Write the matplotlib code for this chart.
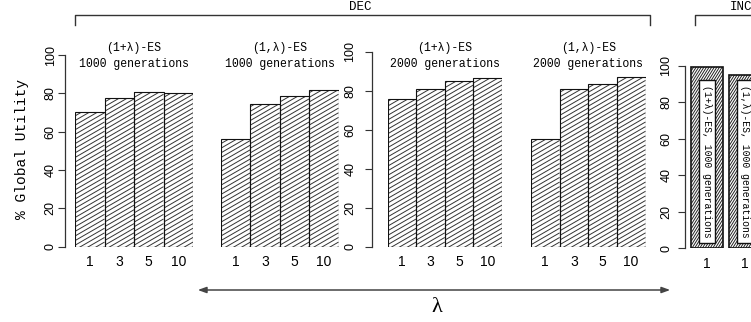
import matplotlib
matplotlib.use("Agg")
import matplotlib.pyplot as plt
import numpy as np
from matplotlib.collections import LineCollection
from matplotlib.patches import Rectangle, FancyArrowPatch
from matplotlib.lines import Line2D
from matplotlib.transforms import IdentityTransform

W, H = 751, 322

# data
lambdas = ["1", "3", "5", "10"]
plus_1000 = [70.1, 77.7, 80.7, 80.3]
comma_1000 = [56.0, 74.6, 78.6, 81.7]
plus_2000 = [75.7, 80.9, 85.0, 86.4]
comma_2000 = [55.4, 80.7, 83.3, 86.9]
titles = ["(1+λ)-ES\n1000 generations", "(1,λ)-ES\n1000 generations",
          "(1+λ)-ES\n2000 generations", "(1,λ)-ES\n2000 generations"]
inc_ticks = ["1", "1"]
inc_values = [99.6, 95.1]
inc_texts = ["(1+λ)-ES, 1000 generations", "(1,λ)-ES, 1000 generations"]

MONO = "Liberation Mono"
SANS = "Liberation Sans"
LINE = "#333333"

fig = plt.figure(figsize=(W / 100, H / 100), dpi=100)


def rect(l, r, b, t):
    return [l / W, 1 - b / H, (r - l) / W, (b - t) / H]


def fpx(x, y):
    return (x / W, 1 - y / H)


def hatch(ax, bars, angle, step, lw, color):
    # angled hatch lines in pixel space, clipped to each bar
    tan = np.tan(np.radians(angle))
    dy = step / np.cos(np.radians(angle))
    for b in bars:
        bb = b.get_window_extent()
        x0, x1, y0, y1 = bb.x0, bb.x1, bb.y0, bb.y1
        cs = np.arange(y0 - (x1 - x0) * tan - dy, y1 + dy, dy)
        segs = [[(x0, c), (x1, c + (x1 - x0) * tan)] for c in cs]
        lc = LineCollection(segs, colors=color, linewidths=lw,
                            transform=IdentityTransform(), zorder=1.5)
        ax.add_collection(lc, autolim=False)
        lc.set_clip_path(b)


def style_axis(ax, show_y, offset_pt, pad):
    for s in ["top", "right", "bottom"]:
        ax.spines[s].set_visible(False)
    ax.set_ylim(0, 100)
    if show_y:
        ax.spines["left"].set_position(("outward", offset_pt))
        ax.spines["left"].set_bounds(0, 100)
        ax.spines["left"].set_color(LINE)
        ax.spines["left"].set_linewidth(0.9)
        ax.set_yticks([0, 20, 40, 60, 80, 100])
        ax.tick_params(axis="y", length=5, width=0.8, color=LINE,
                       labelrotation=90, labelsize=9, pad=pad)
        for t in ax.get_yticklabels():
            t.set_family(SANS)
            t.set_va("center")
    else:
        ax.spines["left"].set_visible(False)
        ax.set_yticks([])
    ax.tick_params(axis="x", length=0, labelsize=10, pad=6)


panels = [
    (plus_1000, titles[0], rect(75, 193, 246.7, 55), True, 7.2, 1.0),
    (comma_1000, titles[1], rect(221, 338.5, 246.7, 55), False, 0, 0),
    (plus_2000, titles[2], rect(387.5, 502, 246.7, 51.7), True, 11.5, 6),
    (comma_2000, titles[3], rect(531, 645.5, 246.7, 51.7), False, 0, 0),
]

for vals, title, pos, show_y, off, pad in panels:
    ax = fig.add_axes(pos)
    ax.patch.set_visible(False)
    x = np.arange(len(vals)) + 0.5
    bars = ax.bar(x, vals, width=1.0, facecolor="none", edgecolor="#111111",
                  linewidth=0.8, zorder=2)
    ax.set_xlim(0, len(vals))
    style_axis(ax, show_y, off, pad)
    ax.set_xticks(x, lambdas)
    for t in ax.get_xticklabels():
        t.set_family(SANS)
    hatch(ax, bars, 30, 4.0, 0.7, "#333333")
    cx = pos[0] + pos[2] / 2
    line1, line2 = title.split("\n")
    fig.text(cx, 1 - 48.5 / H, line1, ha="center", va="center",
             family=MONO, fontsize=8.3)
    fig.text(cx, 1 - 63.5 / H, line2, ha="center", va="center",
             family=MONO, fontsize=8.3)

# INC panel
ax5 = fig.add_axes(rect(685, 685 + 2.6 * 31.7, 248.3, 66))
ax5.patch.set_visible(False)
xi = np.array([0.2, 1.4]) + 0.5
bars5 = ax5.bar(xi, inc_values, width=1.0, facecolor="none",
                edgecolor="#111111", linewidth=1.2, zorder=2)
ax5.set_xlim(0, 2.6)
style_axis(ax5, True, 0, 4)
ax5.set_xticks(xi, inc_ticks)
for t in ax5.get_xticklabels():
    t.set_family(SANS)
hatch(ax5, bars5, 58, 2.2, 0.7, "#222222")
for xc, txt in zip(xi, inc_texts):
    ax5.add_patch(Rectangle((xc - 0.25, 2.7), 0.5, 89.8, facecolor="white",
                            edgecolor="#111111", linewidth=1.0, zorder=3))
    ax5.text(xc, 2.7 + 89.8 / 2, txt, rotation=270, ha="center", va="center",
             family=MONO, fontsize=7, zorder=4)

# y label
fig.text(22 / W, 1 - 149 / H, "% Global Utility", rotation=90, ha="center",
         va="center", family=MONO, fontsize=10.5)

# DEC / INC brackets
for pts in ([(75, 25), (75, 15), (650, 15), (650, 25)],
            [(695, 25), (695, 15), (760, 15)]):
    xs, ys = zip(*[fpx(*p) for p in pts])
    fig.add_artist(Line2D(xs, ys, transform=fig.transFigure, color=LINE, lw=1))
fig.text(*fpx(360, 7.5), "DEC", ha="center", va="center", family=MONO, fontsize=9)
fig.text(*fpx(741, 7.5), "INC", ha="center", va="center", family=MONO, fontsize=9)

# lambda arrow
fig.add_artist(FancyArrowPatch(fpx(195, 290), fpx(673, 290),
                               transform=fig.transFigure,
                               arrowstyle="<|-|>,head_length=0.5,head_width=0.18",
                               mutation_scale=10, color="#444444", lw=1.1))
fig.text(*fpx(437, 308), "λ", ha="center", va="center",
         family="Liberation Serif", fontsize=16)

fig.savefig("out.png", dpi=100)
